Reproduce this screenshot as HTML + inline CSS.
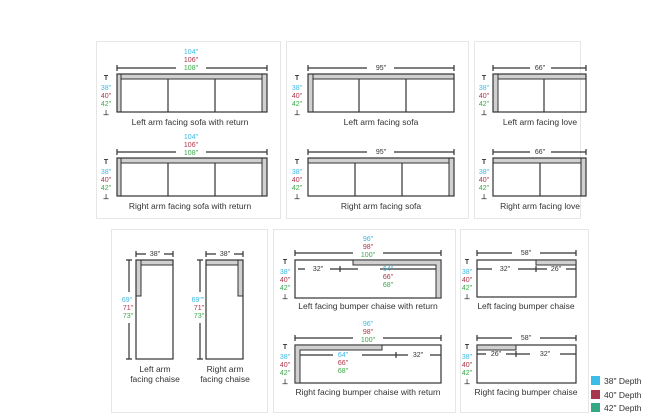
<!DOCTYPE html>
<html><head><meta charset="utf-8"><style>
body{margin:0;background:#fff;}
svg{display:block;font-family:"Liberation Sans",sans-serif;}
.c{fill:#3cb9e6}.r{fill:#ad3449}.g{fill:#3aa94a}
.cap{font-size:8.5px;fill:#333;text-anchor:middle}
.n{font-size:7px;text-anchor:middle}
.l{fill:none;stroke:#333;stroke-width:1.2}
.s{fill:#d0d0d0;stroke:#333;stroke-width:1}
</style></head><body>
<svg width="650" height="420" viewBox="0 0 650 420">
<g fill="none" stroke="#e6e6e6">
<rect x="96.5" y="41.5" width="184" height="177"/>
<rect x="286.5" y="41.5" width="182" height="177"/>
<rect x="474.5" y="41.5" width="106" height="177"/>
<rect x="111.5" y="229.5" width="156" height="183"/>
<rect x="273.5" y="229.5" width="182" height="183"/>
<rect x="460.5" y="229.5" width="128" height="183"/>
</g>
<defs>
<g id="dep">
<text x="0" y="0" class="n" fill="#333" font-weight="bold">T</text>
<text x="0" y="10" class="n c">38"</text>
<text x="0" y="18" class="n r">40"</text>
<text x="0" y="26" class="n g">42"</text>
<text x="0" y="35" class="n" fill="#333" font-weight="bold">⊥</text>
</g>
</defs>
<!-- Panel 1 -->
<g>
<text x="191" y="54" class="n c">104"</text><text x="191" y="62" class="n r">106"</text><text x="191" y="70" class="n g">108"</text>
<path class="l" d="M117 68H176M206 68H267M117 65V71M267 65V71"/>
<rect class="s" x="117" y="74" width="150" height="5"/>
<rect class="s" x="117" y="74" width="4" height="38"/>
<rect class="s" x="262" y="74" width="5" height="38"/>
<rect class="l" x="117" y="74" width="150" height="38"/>
<path class="l" d="M168 79V112M215 79V112"/>
<use href="#dep" x="106" y="80"/>
<text x="190" y="125" class="cap">Left arm facing sofa with return</text>
<text x="191" y="139" class="n c">104"</text><text x="191" y="147" class="n r">106"</text><text x="191" y="155" class="n g">108"</text>
<path class="l" d="M117 152H176M206 152H267M117 149V155M267 149V155"/>
<rect class="s" x="117" y="158" width="150" height="5"/>
<rect class="s" x="117" y="158" width="4" height="38"/>
<rect class="s" x="262" y="158" width="5" height="38"/>
<rect class="l" x="117" y="158" width="150" height="38"/>
<path class="l" d="M168 163V196M215 163V196"/>
<use href="#dep" x="106" y="164"/>
<text x="190" y="209" class="cap">Right arm facing sofa with return</text>
</g>
<!-- Panel 2 -->
<g>
<text x="381" y="70" class="n" fill="#333">95"</text>
<path class="l" d="M308 68H367M394 68H454M308 65V71M454 65V71"/>
<rect class="s" x="308" y="74" width="146" height="5"/>
<rect class="s" x="308" y="74" width="5" height="38"/>
<rect class="l" x="308" y="74" width="146" height="38"/>
<path class="l" d="M359 79V112M406 79V112"/>
<use href="#dep" x="297" y="80"/>
<text x="381" y="125" class="cap">Left arm facing sofa</text>
<text x="381" y="154" class="n" fill="#333">95"</text>
<path class="l" d="M308 152H367M394 152H454M308 149V155M454 149V155"/>
<rect class="s" x="308" y="158" width="146" height="5"/>
<rect class="s" x="449" y="158" width="5" height="38"/>
<rect class="l" x="308" y="158" width="146" height="38"/>
<path class="l" d="M355 163V196M402 163V196"/>
<use href="#dep" x="297" y="164"/>
<text x="381" y="209" class="cap">Right arm facing sofa</text>
</g>
<!-- Panel 3 -->
<g>
<text x="540" y="70" class="n" fill="#333">66"</text>
<path class="l" d="M493 68H530M551 68H586M493 65V71M586 65V71"/>
<rect class="s" x="493" y="74" width="93" height="5"/>
<rect class="s" x="493" y="74" width="5" height="38"/>
<rect class="l" x="493" y="74" width="93" height="38"/>
<path class="l" d="M544 79V112"/>
<use href="#dep" x="484" y="80"/>
<text x="540" y="125" class="cap">Left arm facing love</text>
<text x="540" y="154" class="n" fill="#333">66"</text>
<path class="l" d="M493 152H530M551 152H586M493 149V155M586 149V155"/>
<rect class="s" x="493" y="158" width="93" height="5"/>
<rect class="s" x="581" y="158" width="5" height="38"/>
<rect class="l" x="493" y="158" width="93" height="38"/>
<path class="l" d="M540 163V196"/>
<use href="#dep" x="484" y="164"/>
<text x="540" y="209" class="cap">Right arm facing love</text>
</g>
<!-- Panel 4 -->
<g>
<text x="155" y="256" class="n" fill="#333">38"</text>
<path class="l" d="M136 254H146M164 254H173M136 251V257M173 251V257"/>
<path class="l" d="M129 260V292M129 323V359M126 260H132M126 359H132"/>
<text x="127" y="302" class="n c">69"</text><text x="128" y="310" class="n r">71"</text><text x="128" y="318" class="n g">73"</text>
<rect class="s" x="136" y="260" width="37" height="5"/>
<rect class="s" x="136" y="260" width="5" height="36"/>
<rect class="l" x="136" y="260" width="37" height="99"/>
<text x="155" y="372" class="cap">Left arm</text><text x="155" y="382" class="cap">facing chaise</text>
<text x="225" y="256" class="n" fill="#333">38"</text>
<path class="l" d="M206 254H216M234 254H243M206 251V257M243 251V257"/>
<path class="l" d="M200 260V292M200 323V359M197 260H203M197 359H203"/>
<text x="198" y="302" class="n c">69""</text><text x="199" y="310" class="n r">71"</text><text x="199" y="318" class="n g">73"</text>
<rect class="s" x="206" y="260" width="37" height="5"/>
<rect class="s" x="238" y="260" width="5" height="36"/>
<rect class="l" x="206" y="260" width="37" height="99"/>
<text x="225" y="372" class="cap">Right arm</text><text x="225" y="382" class="cap">facing chaise</text>
</g>
<!-- Panel 5 -->
<g>
<text x="368" y="241" class="n c">96"</text><text x="368" y="249" class="n r">98"</text><text x="368" y="257" class="n g">100"</text>
<path class="l" d="M295 253H353M383 253H441M295 250V256M441 250V256"/>
<rect class="l" x="295" y="260" width="146" height="38"/>
<path class="s" d="M353 260H441V298H436V265H353Z"/>
<path class="l" d="M298 269H305M330 269H358M340 266V272M380 269H436"/>
<text x="318" y="271" class="n" fill="#333">32"</text>
<text x="388" y="271" class="n c">64"</text><text x="388" y="279" class="n r">66"</text><text x="388" y="287" class="n g">68"</text>
<use href="#dep" x="285" y="264"/>
<text x="368" y="309" class="cap">Left facing bumper chaise with return</text>
<text x="368" y="326" class="n c">96"</text><text x="368" y="334" class="n r">98"</text><text x="368" y="342" class="n g">100"</text>
<path class="l" d="M295 338H353M383 338H441M295 335V341M441 335V341"/>
<rect class="l" x="295" y="345" width="146" height="38"/>
<path class="s" d="M295 345H382V350H300V383H295Z"/>
<path class="l" d="M300 355H333M362 355H408M396 352V358M430 355H441"/>
<text x="343" y="357" class="n c">64"</text><text x="343" y="365" class="n r">66"</text><text x="343" y="373" class="n g">68"</text>
<text x="418" y="357" class="n" fill="#333">32"</text>
<use href="#dep" x="285" y="349"/>
<text x="368" y="395" class="cap">Right facing bumper chaise with return</text>
</g>
<!-- Panel 6 -->
<g>
<text x="526" y="255" class="n" fill="#333">58"</text>
<path class="l" d="M477 253H512M540 253H576M477 250V256M576 250V256"/>
<rect class="l" x="477" y="260" width="99" height="37"/>
<rect class="s" x="536" y="260" width="40" height="5"/>
<path class="l" d="M477 269H492M518 269H547M536 266V272M566 269H576"/>
<text x="505" y="271" class="n" fill="#333">32"</text><text x="556" y="271" class="n" fill="#333">26"</text>
<use href="#dep" x="467" y="264"/>
<text x="526" y="309" class="cap">Left facing bumper chaise</text>
<text x="526" y="340" class="n" fill="#333">58"</text>
<path class="l" d="M477 338H512M540 338H576M477 335V341M576 335V341"/>
<rect class="l" x="477" y="345" width="99" height="38"/>
<rect class="s" x="477" y="345" width="39" height="5"/>
<path class="l" d="M477 354H486M506 354H530M516 351V357M560 354H576"/>
<text x="496" y="356" class="n" fill="#333">26"</text><text x="545" y="356" class="n" fill="#333">32"</text>
<use href="#dep" x="467" y="349"/>
<text x="526" y="395" class="cap">Right facing bumper chaise</text>
</g>
<!-- legend -->
<rect x="591" y="376" width="9" height="9" fill="#3bbde9"/>
<rect x="591" y="390" width="9" height="9" fill="#a8384e"/>
<rect x="591" y="403" width="9" height="9" fill="#34a885"/>
<g font-size="8.5" fill="#333">
<text x="604" y="384">38" Depth</text>
<text x="604" y="398">40" Depth</text>
<text x="604" y="411">42" Depth</text>
</g>
</svg>
</body></html>
